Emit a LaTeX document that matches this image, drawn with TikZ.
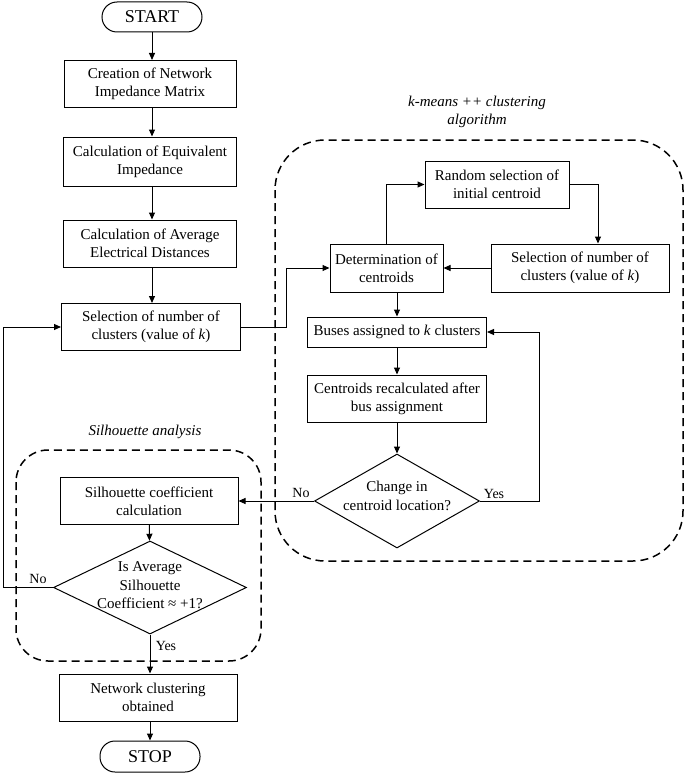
\documentclass[tikz,border=0pt]{standalone}
\usepackage{fontspec}
\setmainfont{Liberation Serif}
\usetikzlibrary{shapes.geometric,arrows.meta}

\tikzset{every picture/.style={line width=1pt}}
\tikzset{
  stepbox/.style={draw, align=center, minimum width=178pt, minimum height=47pt, inner sep=2pt, font=\fontsize{15}{18}\selectfont},
  termbox/.style={draw, rounded corners=15pt, minimum width=100pt, minimum height=30pt, font=\fontsize{18}{20}\selectfont},
  decision/.style={draw, diamond, inner sep=0pt},
  dtext/.style={align=center, font=\fontsize{15}{18.5}\selectfont},
  flow/.style={-{Triangle[length=7pt,width=6pt]}},
  answer/.style={font=\fontsize{14}{16}\selectfont},
  groupbox/.style={dashed, line width=1.5pt, dash pattern=on 8pt off 5pt},
  grouptitle/.style={align=center, font=\fontsize{15}{18}\selectfont\itshape}
}

\begin{document}
\begin{tikzpicture}[x=1pt,y=1pt,yscale=-1,xscale=1]
\useasboundingbox (0,0) rectangle (685,773);

%Shape: Dashed groups
\draw [groupbox, rounded corners=50pt] (275,140) rectangle (683,561);
\draw [groupbox, rounded corners=32pt] (16,450) rectangle (261,661);
% Text Node
\node [grouptitle] (kmtitle) at (477,112) {k-means ++ clustering\\algorithm};
% Text Node
\node [grouptitle] (sltitle) at (145,432) {Silhouette analysis};

%Shape: Left column
\node [termbox] (start) at (152,17) {START};
\node [stepbox, minimum width=172pt] (imp) at (150,84) {Creation of Network\\Impedance Matrix};
\node [stepbox, minimum width=173pt, minimum height=49pt] (eqv) at (150,161.5) {Calculation of Equivalent\\Impedance};
\node [stepbox, minimum width=173pt] (dist) at (150,243.5) {Calculation of Average\\Electrical Distances};
\node [stepbox, minimum width=179pt] (selk) at (151,327) {Selection of number of\\clusters (value of \textit{k})};

%Shape: k-means++ column
\node [stepbox, minimum width=144pt] (rand) at (497,184.5) {Random selection of\\initial centroid};
\node [stepbox, minimum width=113pt, minimum height=48pt] (detc) at (386.5,268) {Determination of\\centroids};
\node [stepbox, minimum height=48pt] (selk2) at (580,268) {Selection of number of\\clusters (value of \textit{k})};
\node [stepbox, minimum width=179pt, minimum height=30pt] (buses) at (397,332) {Buses assigned to \textit{k} clusters};
\node [stepbox, minimum width=179pt] (recalc) at (397,398.5) {Centroids recalculated after\\bus assignment};
\node [decision, minimum width=165pt, minimum height=94pt] (chg) at (397,501) {};
\node [dtext] (chgtxt) at ([yshift=-5pt]chg.center) {Change in\\centroid location?};

%Shape: Silhouette column
\node [stepbox, minimum width=178pt] (silc) at (149,501) {Silhouette coefficient\\calculation};
\node [decision, minimum width=193pt, minimum height=93pt] (avg) at (150,587.5) {};
\node [dtext] (avgtxt) at ([yshift=-2pt]avg.center) {Is Average\\Silhouette\\Coefficient ≈ +1?};
\node [stepbox] (net) at (148,697.5) {Network clustering\\obtained};
\node [termbox, minimum height=31pt] (stop) at (150,756.5) {STOP};

%Straight Lines
\draw [flow] (start) -- (start |- imp.north);
\draw [flow] (imp.south -| start) -- (start |- eqv.north);
\draw [flow] (eqv.south -| start) -- (start |- dist.north);
\draw [flow] (dist.south -| start) -- (start |- selk.north);
\draw [flow] (selk.east) -- ++(45,0) |- (detc.west);
\draw [flow] (detc.north) |- (rand.west);
\draw [flow] (rand.east) -| ([xshift=18pt]selk2.north);
\draw [flow] (selk2.west) -- (detc.east);
\draw [flow] (buses.north |- detc.south) -- (buses.north);
\draw [flow] (buses) -- (recalc);
\draw [flow] (recalc) -- (chg);
\draw [flow] (chg.east) -- ++(59,0) |- (buses.east);
\draw [flow] (chg.west) -- (silc.east);
\draw [flow] (silc) -- (avg);
\draw [flow] (avg.west) -- ++(-50,0) |- (selk.west);
\draw [flow] (avg.south) -- (avg.south |- net.north);
\draw [flow] (net.south -| stop) -- (stop.north);

% Text Node
\node [answer] (yes1) at (494,494) {Yes};
\node [answer] (no1) at (301,493) {No};
\node [answer] (no2) at (38,579) {No};
\node [answer] (yes2) at (166,646) {Yes};

\end{tikzpicture}
\end{document}
